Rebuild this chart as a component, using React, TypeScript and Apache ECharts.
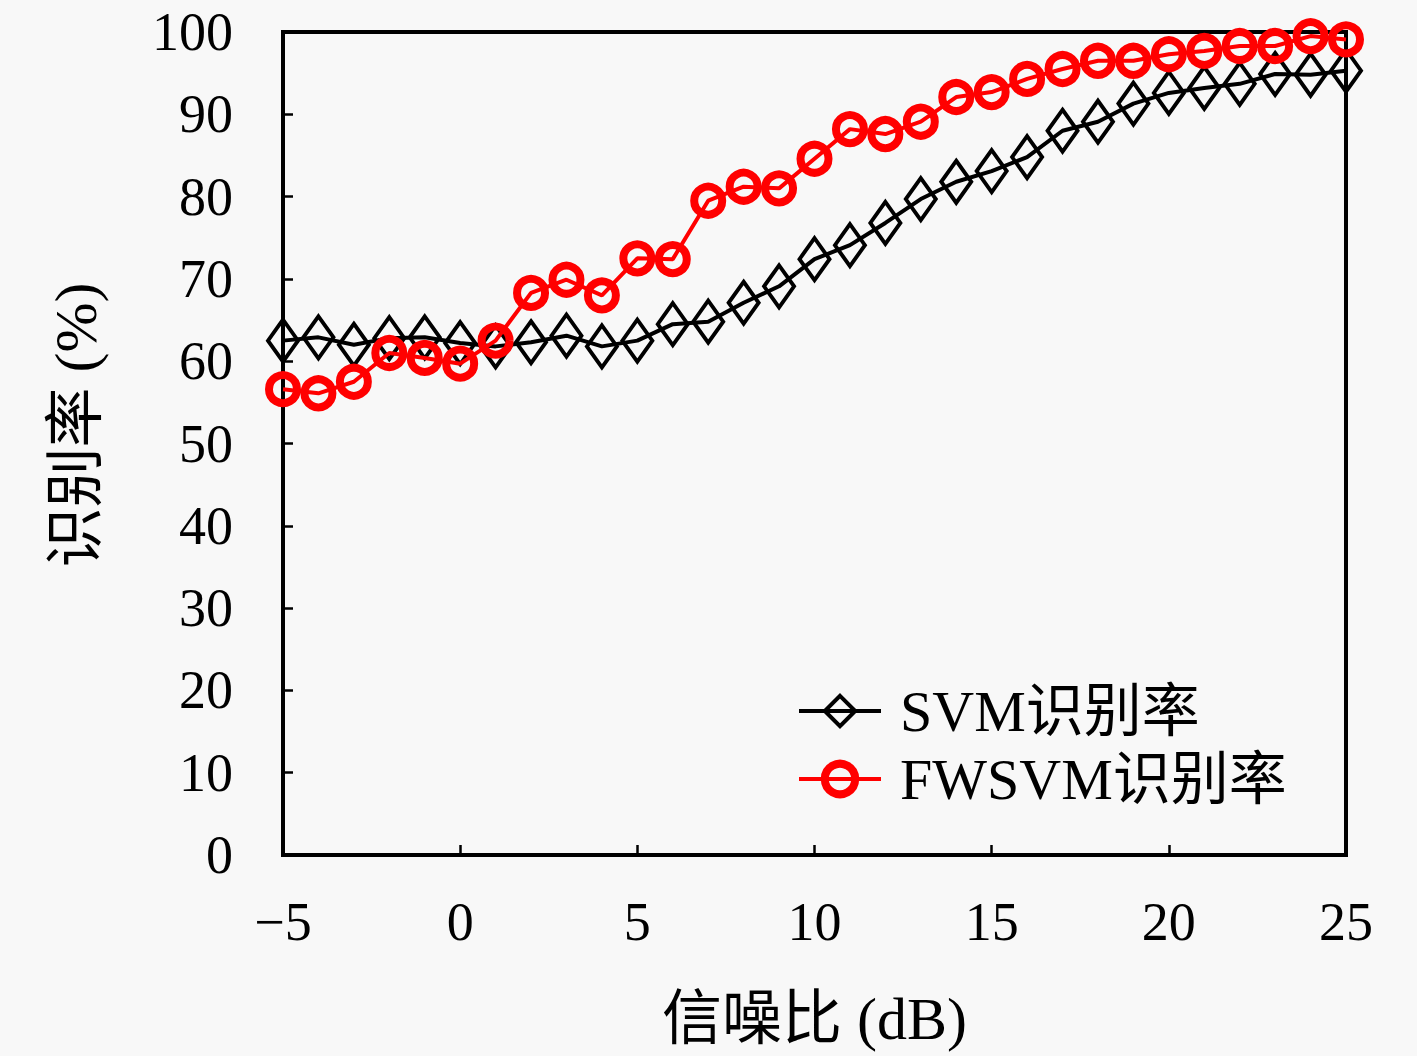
import React, { useEffect, useRef } from "react"
import * as echarts from "echarts"

const snr = [-5, -4, -3, -2, -1, 0, 1, 2, 3, 4, 5, 6, 7, 8, 9, 10, 11, 12, 13, 14, 15, 16, 17, 18, 19, 20, 21, 22, 23, 24, 25]

const svmRate = [
  62.5, 62.9, 62.0, 62.8, 62.9, 62.2, 61.8, 62.3, 63.1, 61.8, 62.5, 64.5, 64.8, 67.1, 69.1, 72.4,
  74.1, 76.8, 79.7, 81.8, 83.1, 84.8, 88.0, 89.1, 91.3, 92.6, 93.2, 93.7, 94.9, 94.8, 95.3,
]

const fwsvmRate = [
  56.6, 56.1, 57.5, 61.0, 60.4, 59.7, 62.5, 68.3, 69.9, 68.0, 72.5, 72.4, 79.5, 81.2, 81.0, 84.6,
  88.2, 87.6, 89.1, 92.1, 92.7, 94.3, 95.5, 96.5, 96.5, 97.3, 97.7, 98.3, 98.3, 99.5, 99.1,
]

const FONT = "'Liberation Serif', 'Noto Sans CJK SC', serif"
const FS = 54
const NAME_FS = 60

const pairs = (ys: number[]) => snr.map((x, i) => [x, ys[i]])

const svmItem = { color: "transparent", borderColor: "#000", borderWidth: 4 }
const fwItem = { color: "transparent", borderColor: "#ff0000", borderWidth: 8 }

export default function App() {
  const ref = useRef<HTMLDivElement>(null)

  useEffect(() => {
    document.body.style.margin = "0"
    const el = ref.current
    if (!el) return
    const chart = echarts.init(el, undefined, { renderer: "svg" })

    chart.setOption({
      animation: false,
      backgroundColor: "#f8f8f8",
      textStyle: { fontFamily: FONT },
      grid: {
        left: 283,
        right: 71,
        top: 32,
        bottom: 201,
        show: true,
        borderColor: "#000",
        borderWidth: 4,
      },
      // y-axis title placed by hand, it sits a bit above the plot's centre
      graphic: [
        {
          type: "text",
          x: 76,
          y: 425,
          rotation: Math.PI / 2,
          style: {
            text: "识别率 (%)",
            font: `${NAME_FS}px ${FONT}`,
            fill: "#000",
            align: "center",
            verticalAlign: "middle",
          },
        },
      ],
      legend: {
        orient: "vertical",
        left: 792,
        top: 677,
        itemWidth: 82,
        itemHeight: 38,
        itemGap: 10,
        textStyle: { fontFamily: FONT, fontSize: 58, color: "#000", padding: [0, 0, 0, 14] },
        data: [
          { name: "SVM识别率", itemStyle: svmItem, lineStyle: { color: "#000", width: 4 } },
          { name: "FWSVM识别率", itemStyle: fwItem, lineStyle: { color: "#ff0000", width: 4 } },
        ],
      },
      xAxis: {
        type: "value",
        min: -5,
        max: 25,
        interval: 5,
        name: "信噪比 (dB)",
        nameLocation: "middle",
        nameGap: 134,
        nameTextStyle: { fontFamily: FONT, fontSize: NAME_FS, color: "#000" },
        axisLine: { onZero: false, lineStyle: { color: "#000", width: 4 } },
        axisTick: { inside: true, length: 10, lineStyle: { color: "#000", width: 2.5 } },
        axisLabel: {
          margin: 40,
          fontFamily: FONT,
          fontSize: FS,
          color: "#000",
          formatter: (v: number) => (v < 0 ? "−" + Math.abs(v) : String(v)),
        },
        splitLine: { show: false },
      },
      yAxis: {
        type: "value",
        min: 0,
        max: 100,
        interval: 10,
        axisLine: { onZero: false, lineStyle: { color: "#000", width: 4 } },
        axisTick: { inside: true, length: 10, lineStyle: { color: "#000", width: 2.5 } },
        axisLabel: { margin: 50, fontFamily: FONT, fontSize: FS, color: "#000" },
        splitLine: { show: false },
      },
      series: [
        {
          name: "SVM识别率",
          type: "line",
          data: pairs(svmRate),
          symbol: "diamond",
          symbolSize: [30, 42],
          lineStyle: { color: "#000", width: 4 },
          itemStyle: svmItem,
          z: 2,
        },
        {
          name: "FWSVM识别率",
          type: "line",
          data: pairs(fwsvmRate),
          symbol: "circle",
          symbolSize: 28,
          lineStyle: { color: "#ff0000", width: 4 },
          itemStyle: fwItem,
          z: 3,
        },
      ],
    })

    return () => chart.dispose()
  }, [])

  return <div ref={ref} style={{ width: 1417, height: 1056 }} />
}
